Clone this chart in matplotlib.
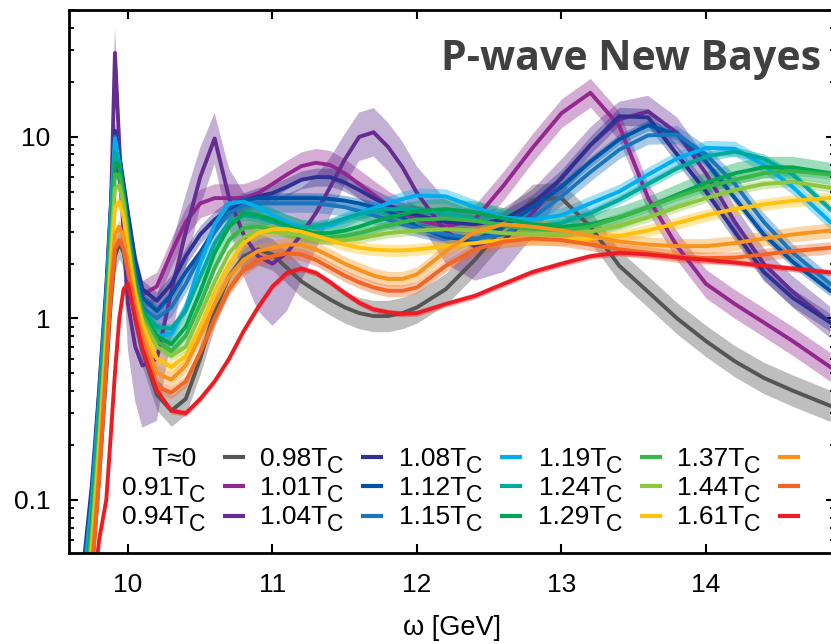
import matplotlib
matplotlib.use('Agg')
import matplotlib.pyplot as plt
import numpy as np
from matplotlib.ticker import LogLocator, NullFormatter, NullLocator

# frequency grid [GeV]
omega = [9.6, 9.7, 9.75, 9.8, 9.85, 9.88, 9.91, 9.94, 9.97, 10.0, 10.05, 10.1,
         10.2, 10.3, 10.4, 10.5, 10.6, 10.7, 10.8, 10.9, 11.0, 11.1, 11.2, 11.3,
         11.4, 11.5, 11.6, 11.7, 11.8, 11.9, 12.0,
         12.2, 12.4, 12.6, 12.8, 13.0, 13.2, 13.4, 13.6, 13.8, 14.0, 14.2, 14.4, 14.6, 14.86]

# spectral functions
rho_T0 = [0.01, 0.02, 0.04, 0.13, 0.5, 1.2, 2.2, 2.6, 2.3, 1.7, 1.0, 0.66,
          0.38, 0.31, 0.36, 0.6, 1.1, 1.7, 2.2, 2.4, 2.25, 1.9, 1.6, 1.42, 1.27, 1.15, 1.07, 1.03, 1.03, 1.07, 1.15,
          1.45, 2.1, 3.2, 4.5, 4.6, 3.2, 1.95, 1.4, 1.0, 0.75, 0.58, 0.47, 0.4, 0.33]
rho_091 = [0.01, 0.03, 0.07, 0.25, 1.0, 2.8, 8.0, 6.0, 3.6, 2.3, 1.6, 1.35,
           1.5, 2.3, 3.4, 4.3, 4.6, 4.6, 4.6, 4.9, 5.5, 6.2, 6.9, 7.2, 7.0, 6.3, 5.5, 4.8, 4.2, 3.8, 3.5,
           3.2, 3.5, 5.4, 8.7, 13.5, 17.5, 11.5, 4.6, 2.5, 1.55, 1.2, 0.95, 0.75, 0.54]
rho_094 = [0.01, 0.02, 0.05, 0.18, 0.8, 3.5, 29.0, 9.0, 2.8, 1.2, 0.7, 0.55,
           0.6, 1.4, 3.0, 6.0, 9.8, 4.6, 2.9, 2.2, 2.0, 2.3, 2.9, 3.8, 5.3, 7.5, 10.0, 10.6, 8.8, 6.8, 4.9,
           3.0, 2.5, 2.7, 3.8, 6.0, 9.0, 12.5, 13.8, 10.5, 6.3, 3.4, 2.0, 1.4, 0.95]
rho_098 = [0.01, 0.05, 0.12, 0.4, 1.5, 4.0, 10.8, 8.0, 5.5, 3.8, 2.1, 1.45,
           1.25, 1.55, 2.2, 2.9, 3.5, 4.0, 4.4, 4.7, 4.9, 5.3, 5.8, 6.0, 6.0, 5.6, 5.1, 4.6, 4.2, 3.9, 3.7,
           3.4, 3.3, 3.5, 4.3, 5.9, 9.0, 13.0, 12.8, 8.0, 5.0, 3.0, 1.8, 1.3, 0.95]
rho_101 = [0.01, 0.045, 0.11, 0.38, 1.4, 3.8, 10.2, 7.5, 5.0, 3.4, 1.9, 1.3,
           1.1, 1.35, 1.8, 2.3, 3.1, 4.1, 4.5, 4.6, 4.6, 4.6, 4.6, 4.6, 4.55, 4.45, 4.3, 4.1, 3.9, 3.6, 3.2,
           2.8, 2.7, 3.2, 4.1, 5.3, 7.3, 9.7, 11.6, 10.3, 7.3, 4.6, 2.9, 2.05, 1.42]
rho_104 = [0.01, 0.042, 0.1, 0.36, 1.35, 3.6, 10.0, 7.2, 4.8, 3.2, 1.7, 1.15,
           1.0, 1.15, 1.55, 2.2, 3.0, 3.8, 4.2, 4.3, 4.3, 4.3, 4.3, 4.3, 4.2, 4.1, 3.9, 3.7, 3.5, 3.3, 3.15,
           2.9, 2.75, 2.9, 3.6, 4.7, 6.4, 8.5, 10.2, 10.3, 8.0, 5.5, 3.4, 2.3, 1.55]
rho_108 = [0.01, 0.04, 0.095, 0.33, 1.25, 3.4, 9.8, 7.0, 4.6, 3.0, 1.6, 1.1,
           0.8, 0.82, 1.15, 2.0, 3.3, 4.3, 4.4, 4.1, 3.7, 3.4, 3.2, 3.15, 3.25, 3.5, 3.8, 4.05, 4.3, 4.55, 4.75,
           4.7, 4.1, 3.6, 3.5, 3.7, 4.3, 5.0, 6.2, 7.6, 8.7, 8.6, 7.0, 5.3, 3.4]
rho_112 = [0.01, 0.035, 0.085, 0.3, 1.15, 3.1, 8.3, 7.0, 4.6, 2.9, 1.6, 1.1,
           0.9, 0.88, 1.1, 1.7, 2.6, 3.4, 3.7, 3.6, 3.4, 3.2, 3.15, 3.2, 3.35, 3.55, 3.75, 3.9, 4.0, 4.0, 3.95,
           3.8, 3.5, 3.25, 3.2, 3.35, 3.8, 4.5, 5.5, 6.7, 7.8, 8.3, 7.6, 6.2, 4.0]
rho_115 = [0.01, 0.03, 0.075, 0.27, 1.05, 2.8, 7.2, 7.0, 4.8, 3.0, 1.6, 1.1,
           0.8, 0.72, 0.9, 1.4, 2.3, 3.2, 3.8, 3.7, 3.5, 3.25, 3.05, 2.95, 2.95, 3.05, 3.2, 3.4, 3.6, 3.75, 3.9,
           4.0, 3.85, 3.55, 3.3, 3.2, 3.3, 3.6, 4.1, 4.8, 5.6, 6.3, 6.8, 6.8, 6.3]
rho_119 = [0.01, 0.028, 0.068, 0.24, 0.95, 2.5, 6.2, 6.2, 4.5, 2.8, 1.5, 1.05,
           0.75, 0.66, 0.8, 1.2, 1.9, 2.7, 3.15, 3.2, 3.1, 2.95, 2.85, 2.8, 2.8, 2.85, 2.95, 3.1, 3.25, 3.4, 3.5,
           3.55, 3.45, 3.25, 3.1, 3.05, 3.2, 3.6, 4.1, 4.7, 5.3, 5.8, 6.3, 6.5, 6.2]
rho_124 = [0.01, 0.025, 0.06, 0.21, 0.85, 2.2, 5.2, 5.4, 4.2, 2.6, 1.4, 0.98,
           0.7, 0.62, 0.7, 1.05, 1.6, 2.3, 2.8, 3.0, 3.0, 2.95, 2.85, 2.75, 2.7, 2.7, 2.75, 2.85, 2.95, 3.0, 3.05,
           3.1, 3.05, 2.95, 2.9, 2.9, 3.0, 3.25, 3.6, 4.1, 4.6, 5.1, 5.5, 5.65, 5.25]
rho_129 = [0.01, 0.022, 0.052, 0.18, 0.75, 1.9, 4.1, 4.4, 3.6, 2.4, 1.35, 0.93,
           0.6, 0.54, 0.62, 0.9, 1.4, 2.0, 2.6, 2.95, 3.1, 3.1, 3.0, 2.85, 2.7, 2.55, 2.45, 2.4, 2.37, 2.37, 2.4,
           2.5, 2.6, 2.7, 2.72, 2.72, 2.75, 2.85, 3.05, 3.35, 3.7, 4.0, 4.25, 4.45, 4.6]
rho_137 = [0.01, 0.02, 0.045, 0.15, 0.62, 1.5, 2.9, 3.2, 2.8, 2.0, 1.2, 0.82,
           0.5, 0.46, 0.55, 0.8, 1.2, 1.7, 2.1, 2.35, 2.45, 2.55, 2.55, 2.4, 2.2, 2.0, 1.85, 1.72, 1.65, 1.65, 1.75,
           2.35, 3.0, 3.3, 3.2, 3.05, 2.85, 2.65, 2.55, 2.5, 2.5, 2.6, 2.75, 2.9, 3.05]
rho_144 = [0.01, 0.018, 0.04, 0.13, 0.55, 1.3, 2.4, 2.7, 2.4, 1.8, 1.1, 0.75,
           0.42, 0.39, 0.45, 0.65, 1.0, 1.45, 1.85, 2.1, 2.2, 2.28, 2.25, 2.1, 1.9, 1.72, 1.58, 1.48, 1.42, 1.42, 1.48,
           1.95, 2.4, 2.65, 2.75, 2.7, 2.55, 2.4, 2.3, 2.2, 2.15, 2.16, 2.25, 2.35, 2.45]
rho_161 = [0.005, 0.015, 0.025, 0.06, 0.1, 0.22, 0.5, 1.0, 1.45, 1.55, 1.0, 0.68,
           0.4, 0.31, 0.3, 0.36, 0.45, 0.6, 0.85, 1.15, 1.5, 1.78, 1.88, 1.78, 1.58, 1.38, 1.22, 1.12, 1.08, 1.06, 1.07,
           1.2, 1.33, 1.55, 1.8, 2.0, 2.2, 2.3, 2.25, 2.17, 2.1, 2.03, 1.95, 1.88, 1.79]

# error band (multiplicative) - 0.94Tc band varies strongly
err_094 = [1.4, 1.4, 1.4, 1.4, 1.4, 1.4, 1.38, 1.5, 1.6, 1.8, 2.0, 2.2,
           2.2, 1.8, 1.6, 1.45, 1.38, 1.45, 1.7, 2.0, 2.2, 2.1, 1.8, 1.6, 1.45, 1.38, 1.36, 1.36, 1.36, 1.38, 1.4,
           1.5, 1.55, 1.5, 1.35, 1.25, 1.25, 1.25, 1.22, 1.22, 1.22, 1.22, 1.22, 1.22, 1.22]
err_const = [1.22, 1.2, None, 1.12, 1.07, 1.12, 1.1, 1.06, 1.15, 1.06, 1.06, 1.08, 1.1, 1.08, 1.04]

labels = ['T≈0', '0.91T', '0.94T', '0.98T', '1.01T', '1.04T', '1.08T', '1.12T',
          '1.15T', '1.19T', '1.24T', '1.29T', '1.37T', '1.44T', '1.61T']
colors = ['#555555', '#92278f', '#662d91', '#2e3192', '#0054a6', '#1b75bc', '#00aeef', '#00a99d',
          '#00a651', '#39b54a', '#8dc63f', '#ffc20e', '#f7941d', '#f26522', '#ed1c24']
series = [rho_T0, rho_091, rho_094, rho_098, rho_101, rho_104, rho_108, rho_112,
          rho_115, rho_119, rho_124, rho_129, rho_137, rho_144, rho_161]

plt.rcParams['font.family'] = ['Liberation Sans', 'DejaVu Sans']

fig = plt.figure(figsize=(8.31, 6.44), dpi=100)
# axes extends a bit past the right edge (the original was cropped)
ax = fig.add_axes([69/831, 91/644, 766/831, 543/644])

x = np.array(omega)
for i, rho in enumerate(series):
    y = np.array(rho)
    if err_const[i] is None:
        f = np.array(err_094)
    else:
        f = err_const[i]
    ax.fill_between(x, y / f, y * f, color=colors[i], alpha=0.38, lw=0)
    ax.plot(x, y, color=colors[i], lw=2.8, solid_joinstyle='round')

ax.set_yscale('log')
ax.set_xlim(9.592, 14.893)
ax.set_ylim(0.051, 50)
ax.set_xticks([10, 11, 12, 13, 14])
ax.set_yticks([0.1, 1, 10])
ax.set_yticklabels(['0.1', '1', '10'])
ax.yaxis.set_minor_locator(LogLocator(subs=np.arange(2, 10)))
ax.yaxis.set_minor_formatter(NullFormatter())
ax.xaxis.set_minor_locator(NullLocator())
ax.tick_params(which='both', direction='in', top=True, right=True, labelsize=19)
ax.tick_params(axis='x', pad=14.4)
ax.tick_params(axis='y', pad=13.5)
ax.tick_params(which='major', length=6.5, width=1.5)
ax.tick_params(which='minor', length=3.6, width=1.3)
for s in ax.spines.values():
    s.set_linewidth(2)
ax.set_xlabel('ω [GeV]', fontsize=19.5, labelpad=13)

ax.text(0.9817, (553 - 70) / 543, 'P-wave New Bayes', transform=ax.transAxes,
        fontfamily='Open Sans', fontweight='bold', fontsize=29.5, color='#404040',
        ha='right', va='baseline')

# legend: label then sample, gnuplot style
col_end = [205, 343, 482, 622, 760]
row_base = [466, 495, 524]
row_line = [457, 486, 516]
def axx(px):
    return (px - 69) / 766
def axy(py):
    return (553 - py) / 543
for i, lab in enumerate(labels):
    c, r = i // 3, i % 3
    end = col_end[c]
    if i == 0:
        ax.text(axx(197), axy(row_base[r]), lab, transform=ax.transAxes, fontsize=19,
                ha='right', va='baseline')
    else:
        ax.text(axx(end - 16), axy(row_base[r]), lab, transform=ax.transAxes, fontsize=19,
                ha='right', va='baseline')
        ax.text(axx(end), axy(row_base[r] + 7), 'C', transform=ax.transAxes, fontsize=16.5,
                ha='right', va='baseline')
    ax.plot([axx(end + 18), axx(end + 40)], [axy(row_line[r])] * 2, transform=ax.transAxes,
            color=colors[i], lw=3, solid_capstyle='butt')

fig.savefig('out.png', dpi=100)
